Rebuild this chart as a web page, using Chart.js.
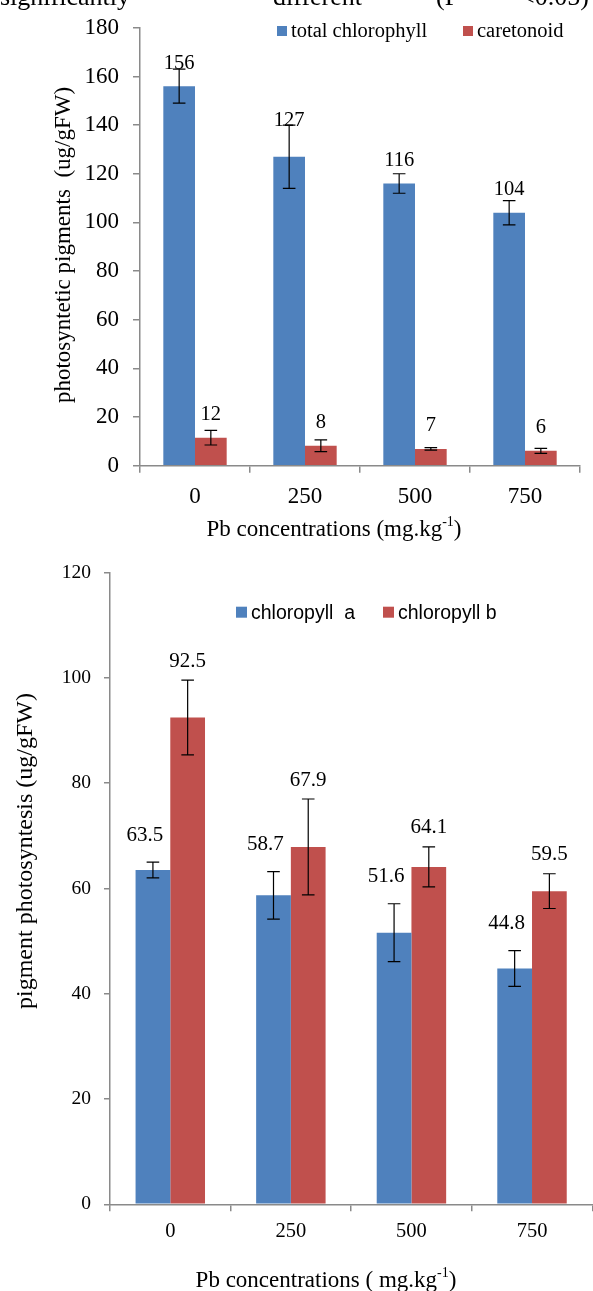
<!DOCTYPE html>
<html>
<head>
<meta charset="utf-8">
<script src="https://cdn.jsdelivr.net/npm/chart.js@4.4.1/dist/chart.umd.min.js"></script>
<style>
  html, body { margin: 0; padding: 0; background: #fff; }
  .box { position: relative; width: 593px; }
  #top_box { height: 548px; }
  #bottom_box { height: 743px; }
</style>
</head>
<body>
<div class="box" id="top_box"><canvas id="chart_total"></canvas></div>
<div class="box" id="bottom_box"><canvas id="chart_ab"></canvas></div>
<script>
// data
var doses = ['0', '250', '500', '750'];
var totalChl = [156, 127, 116, 104];
var totalChlErr = [7, 13, 4, 5];
var carotenoid = [11.5, 8.2, 6.9, 6.1];
var carotenoidErr = [3, 2.4, 0.5, 1];
var chlA = [63.5, 58.7, 51.6, 44.8];
var chlAErr = [1.5, 4.5, 5.5, 3.4];
var chlB = [92.5, 67.9, 64.1, 59.5];
var chlBErr = [7.1, 9.1, 3.8, 3.3];

var BLUE = '#4F81BD';
var RED = '#C0504D';
var AXIS = '#8a8a8a';
var SERIF = "'Liberation Serif', 'Times New Roman', serif";
var SANS = "'Liberation Sans', Arial, sans-serif";

// error bars + value labels, drawn over the bars
function barExtras(cfg) {
    return {
        id: 'barExtras',
        afterDatasetsDraw: function (chart) {
            var ctx = chart.ctx;
            var ys = chart.scales.y;
            chart.data.datasets.forEach(function (ds, i) {
                var meta = chart.getDatasetMeta(i);
                meta.data.forEach(function (bar, j) {
                    var v = ds.data[j], e = ds.errors[j];
                    var yTop = ys.getPixelForValue(v + e);
                    var yBot = ys.getPixelForValue(v - e);
                    ctx.save();
                    ctx.strokeStyle = '#000';
                    ctx.lineWidth = 1.2;
                    ctx.beginPath();
                    ctx.moveTo(bar.x, yTop); ctx.lineTo(bar.x, yBot);
                    ctx.moveTo(bar.x - 6.3, yTop); ctx.lineTo(bar.x + 6.3, yTop);
                    ctx.moveTo(bar.x - 6.3, yBot); ctx.lineTo(bar.x + 6.3, yBot);
                    ctx.stroke();
                    ctx.fillStyle = '#000';
                    ctx.font = cfg.font;
                    ctx.textAlign = 'center';
                    ctx.textBaseline = 'middle';
                    var ly = cfg.labelY(bar.y, yTop, i);
                    var dx = cfg.labelDx ? cfg.labelDx[i] : 0;
                    ctx.fillText(cfg.fmt(v), bar.x + dx, ly);
                    ctx.restore();
                });
            });
        }
    };
}

// legend, axis titles and other free text
function decorations(cfg) {
    return {
        id: 'decorations',
        afterDraw: function (chart) {
            var ctx = chart.ctx;
            ctx.save();
            ctx.fillStyle = '#000';
            (cfg.texts || []).forEach(function (t) {
                ctx.font = t.font;
                ctx.textAlign = 'left';
                ctx.textBaseline = 'alphabetic';
                ctx.fillText(t.text, t.x, t.y);
            });
            cfg.legend.items.forEach(function (it, k) {
                ctx.fillStyle = chart.data.datasets[k].backgroundColor;
                ctx.fillRect(it.x, cfg.legend.y, cfg.legend.box, cfg.legend.box);
                ctx.fillStyle = '#000';
                ctx.font = cfg.legend.font;
                ctx.textAlign = 'left';
                ctx.textBaseline = 'middle';
                ctx.fillText(chart.data.datasets[k].label, it.x + cfg.legend.box + 4, cfg.legend.y + cfg.legend.box / 2 + 1);
            });
            // x title with superscript
            var xt = cfg.xTitle;
            ctx.font = xt.size + 'px ' + SERIF;
            var w1 = ctx.measureText(xt.main).width;
            ctx.font = Math.round(xt.size * 0.62) + 'px ' + SERIF;
            var w2 = ctx.measureText(xt.sup).width;
            ctx.font = xt.size + 'px ' + SERIF;
            var w3 = ctx.measureText(xt.end).width;
            var x0 = xt.cx - (w1 + w2 + w3) / 2;
            ctx.textAlign = 'left';
            ctx.textBaseline = 'middle';
            ctx.fillText(xt.main, x0, xt.cy);
            ctx.fillText(xt.end, x0 + w1 + w2, xt.cy);
            ctx.font = Math.round(xt.size * 0.62) + 'px ' + SERIF;
            ctx.fillText(xt.sup, x0 + w1, xt.cy - xt.size * 0.32);
            // y title
            var yt = cfg.yTitle;
            ctx.translate(yt.cx, yt.cy);
            ctx.rotate(-Math.PI / 2);
            ctx.font = yt.size + 'px ' + SERIF;
            ctx.textAlign = 'center';
            ctx.fillText(yt.text, 0, 0);
            ctx.restore();
        }
    };
}

function axisGrid(len) {
    return {
        drawOnChartArea: false,
        drawTicks: true,
        tickLength: len,
        color: AXIS,
        lineWidth: 1.5
    };
}

if (document.getElementById('chart_total')) {
    var ctx1 = document.getElementById('chart_total').getContext('2d');
    new Chart(ctx1, {
        type: 'bar',
        data: {
            labels: doses,
            datasets: [
                { label: 'total chlorophyll', data: totalChl, errors: totalChlErr, backgroundColor: BLUE },
                { label: 'caretonoid', data: carotenoid, errors: carotenoidErr, backgroundColor: RED }
            ]
        },
        options: {
            responsive: true,
            maintainAspectRatio: false,
            animation: false,
            categoryPercentage: 0.576,
            barPercentage: 1,
            layout: { padding: { top: 22.7, right: 13, left: 0, bottom: 0 } },
            plugins: { legend: { display: false }, tooltip: { enabled: false } },
            scales: {
                x: {
                    grid: axisGrid(7),
                    border: { display: true, color: AXIS, width: 1.5 },
                    ticks: { color: '#000', padding: 10, font: { family: SERIF, size: 23 } },
                    afterFit: function (s) { s.height = 548 - 465.7; }
                },
                y: {
                    min: 0, max: 180,
                    grid: axisGrid(7),
                    border: { display: true, color: AXIS, width: 1.5 },
                    ticks: { stepSize: 20, color: '#000', padding: 14, font: { family: SERIF, size: 23 } },
                    afterFit: function (s) { s.width = 140; }
                }
            }
        },
        plugins: [
            barExtras({
                font: '20.5px ' + SERIF,
                fmt: function (v) { return String(Math.round(v)); },
                labelY: function (barTop, errTop) { return Math.min(barTop - 23, errTop - 5); }
            }),
            decorations({
                texts: [
                    { text: 'significantly', x: 0, y: 5, font: '26px ' + SERIF },
                    { text: 'different', x: 273, y: 5, font: '26px ' + SERIF },
                    { text: '(P', x: 436, y: 5, font: '26px ' + SERIF },
                    { text: '<0.05)', x: 520, y: 5, font: '26px ' + SERIF }
                ],
                legend: { y: 26, box: 10, font: '20.5px ' + SERIF, items: [{ x: 277 }, { x: 463 }] },
                xTitle: { main: 'Pb concentrations (mg.kg', sup: '-1', end: ')', cx: 334, cy: 530, size: 23 },
                yTitle: { text: 'photosyntetic pigments  (ug/gFW)', cx: 64, cy: 245, size: 23 }
            })
        ]
    });
}

if (document.getElementById('chart_ab')) {
    var ctx2 = document.getElementById('chart_ab').getContext('2d');
    new Chart(ctx2, {
        type: 'bar',
        data: {
            labels: doses,
            datasets: [
                { label: 'chloropyll  a', data: chlA, errors: chlAErr, backgroundColor: BLUE },
                { label: 'chloropyll b', data: chlB, errors: chlBErr, backgroundColor: RED }
            ]
        },
        options: {
            responsive: true,
            maintainAspectRatio: false,
            animation: false,
            categoryPercentage: 0.576,
            barPercentage: 1,
            layout: { padding: { top: 22, right: 0.7, left: 0, bottom: 0 } },
            plugins: { legend: { display: false }, tooltip: { enabled: false } },
            scales: {
                x: {
                    grid: axisGrid(7),
                    border: { display: true, color: AXIS, width: 1.5 },
                    ticks: { color: '#000', padding: 8, font: { family: SERIF, size: 20.5 } },
                    afterFit: function (s) { s.height = 743 - 656.3; }
                },
                y: {
                    min: 0, max: 120,
                    grid: axisGrid(6),
                    border: { display: true, color: AXIS, width: 1.5 },
                    ticks: { stepSize: 20, color: '#000', padding: 13, font: { family: SERIF, size: 19.5 } },
                    afterFit: function (s) { s.width = 110; }
                }
            }
        },
        plugins: [
            barExtras({
                font: '21px ' + SERIF,
                fmt: function (v) { return v.toFixed(1); },
                labelDx: [-8, 0],
                labelY: function (barTop, errTop, i) { return errTop - (i === 0 ? 27 : 19); }
            }),
            decorations({
                legend: { y: 58.7, box: 11, font: '19.5px ' + SANS, items: [{ x: 236 }, { x: 383 }] },
                xTitle: { main: 'Pb concentrations ( mg.kg', sup: '-1', end: ')', cx: 326, cy: 733, size: 23 },
                yTitle: { text: 'pigment photosyntesis (ug/gFW)', cx: 26, cy: 303, size: 24 }
            })
        ]
    });
}
</script>
</body>
</html>
